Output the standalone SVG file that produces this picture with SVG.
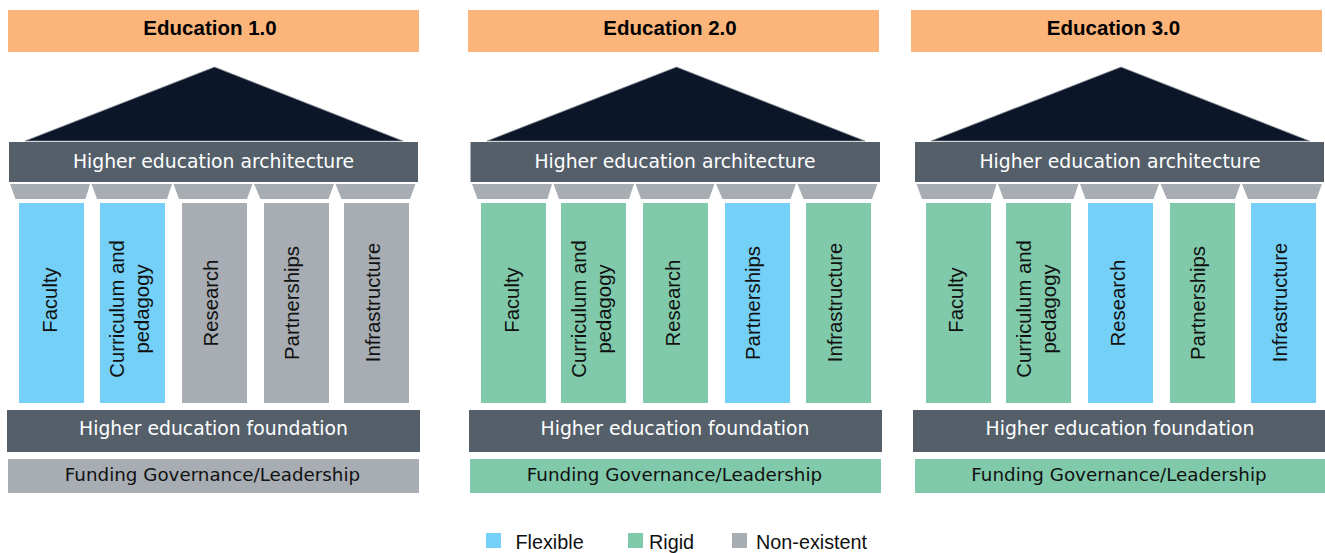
<svg xmlns="http://www.w3.org/2000/svg" width="1325" height="553" viewBox="0 0 1325 553">
<style>
.hdr{fill:#FBB57A}
.hdrt{font-family:"Liberation Sans",Arial,sans-serif;font-weight:bold;font-size:20.5px;fill:#000;text-anchor:middle}
.roof{fill:#0B1628;stroke:#8A9099;stroke-width:0.8}
.bar{fill:#545F6A}
.bart{font-family:"DejaVu Sans",sans-serif;font-size:18.8px;fill:#fff;text-anchor:middle}
.cap{fill:#A7ADB3}
.flex{fill:#74D0F6}
.rigid{fill:#80CAAB}
.none{fill:#A7ADB3}
.colt{font-family:"Liberation Sans",Arial,sans-serif;font-size:20.3px;fill:#111;text-anchor:middle}
.fundt{font-family:"DejaVu Sans",sans-serif;font-size:18.3px;fill:#111;text-anchor:middle}
.legt{font-family:"Liberation Sans",Arial,sans-serif;font-size:19.8px;fill:#111}
</style>
<defs>
<g id="capitals">
<polygon class="cap" points="10,184 90,184 85.5,199 15.5,199"/>
<polygon class="cap" points="91.5,184 172,184 167,199 97,199"/>
<polygon class="cap" points="173.5,184 252.5,184 247,199 179,199"/>
<polygon class="cap" points="254,184 334,184 328.5,199 260.5,199"/>
<polygon class="cap" points="335.5,184 415.5,184 410,199 341.5,199"/>
</g>
</defs>

<g id="connectors"/>

<!-- Panel 1 -->
<g id="edu1">
<g id="edu1-header"><rect class="hdr" x="8" y="10" width="411" height="42"/><text class="hdrt" x="210" y="35">Education 1.0</text></g>
<g id="edu1-roof"><polygon class="roof" points="214.5,67 403,141 25,141"/></g>
<g id="edu1-architecture"><rect class="bar" x="9" y="142" width="409" height="40"/><text class="bart" x="213.5" y="168">Higher education architecture</text></g>
<g id="edu1-capitals"><use href="#capitals"/></g>
<g id="edu1-faculty"><rect class="flex" x="19" y="203" width="65" height="200"/><text class="colt" transform="translate(56.5,300) rotate(-90)">Faculty</text></g>
<g id="edu1-curriculum"><rect class="flex" x="100" y="203" width="65" height="200"/><text class="colt" transform="translate(124,309) rotate(-90)">Curriculum and</text><text class="colt" transform="translate(149,309) rotate(-90)">pedagogy</text></g>
<g id="edu1-research"><rect class="none" x="182" y="203" width="65" height="200"/><text class="colt" transform="translate(218,303) rotate(-90)">Research</text></g>
<g id="edu1-partnerships"><rect class="none" x="264" y="203" width="65" height="200"/><text class="colt" transform="translate(298.5,303) rotate(-90)">Partnerships</text></g>
<g id="edu1-infrastructure"><rect class="none" x="344" y="203" width="65" height="200"/><text class="colt" transform="translate(380,302.5) rotate(-90)">Infrastructure</text></g>
<g id="edu1-foundation"><rect class="bar" x="7" y="410" width="413" height="42"/><text class="bart" x="213.5" y="435">Higher education foundation</text></g>
<g id="edu1-funding"><rect class="none" x="8" y="459" width="411" height="34"/><text class="fundt" x="212.5" y="481">Funding Governance/Leadership</text></g>
</g>

<!-- Panel 2 -->
<g id="edu2">
<g id="edu2-header"><rect class="hdr" x="468" y="10" width="411" height="42"/><text class="hdrt" x="670" y="35">Education 2.0</text></g>
<g id="edu2-roof"><polygon class="roof" points="676.5,67 865,141 487,141"/></g>
<g id="edu2-architecture"><rect class="bar" x="470.5" y="142" width="409.5" height="40"/><text class="bart" x="675" y="168">Higher education architecture</text></g>
<g id="edu2-capitals"><use href="#capitals" x="462"/></g>
<g id="edu2-faculty"><rect class="rigid" x="481" y="203" width="65" height="200"/><text class="colt" transform="translate(518.5,300) rotate(-90)">Faculty</text></g>
<g id="edu2-curriculum"><rect class="rigid" x="561" y="203" width="65" height="200"/><text class="colt" transform="translate(585.5,309) rotate(-90)">Curriculum and</text><text class="colt" transform="translate(610.5,309) rotate(-90)">pedagogy</text></g>
<g id="edu2-research"><rect class="rigid" x="643" y="203" width="65" height="200"/><text class="colt" transform="translate(679.5,303) rotate(-90)">Research</text></g>
<g id="edu2-partnerships"><rect class="flex" x="725" y="203" width="65" height="200"/><text class="colt" transform="translate(760,303) rotate(-90)">Partnerships</text></g>
<g id="edu2-infrastructure"><rect class="rigid" x="806" y="203" width="65" height="200"/><text class="colt" transform="translate(842,302.5) rotate(-90)">Infrastructure</text></g>
<g id="edu2-foundation"><rect class="bar" x="469" y="410" width="413" height="42"/><text class="bart" x="675" y="435">Higher education foundation</text></g>
<g id="edu2-funding"><rect class="rigid" x="470" y="459" width="411" height="34"/><text class="fundt" x="674.5" y="481">Funding Governance/Leadership</text></g>
</g>

<!-- Panel 3 -->
<g id="edu3">
<g id="edu3-header"><rect class="hdr" x="911" y="10" width="411" height="42"/><text class="hdrt" x="1113.5" y="35">Education 3.0</text></g>
<g id="edu3-roof"><polygon class="roof" points="1121,67 1309.5,141 931,141"/></g>
<g id="edu3-architecture"><rect class="bar" x="915" y="142" width="409" height="40"/><text class="bart" x="1120" y="168">Higher education architecture</text></g>
<g id="edu3-capitals"><use href="#capitals" x="906.5"/></g>
<g id="edu3-faculty"><rect class="rigid" x="926" y="203" width="65" height="200"/><text class="colt" transform="translate(963,300) rotate(-90)">Faculty</text></g>
<g id="edu3-curriculum"><rect class="rigid" x="1006" y="203" width="65" height="200"/><text class="colt" transform="translate(1030.5,309) rotate(-90)">Curriculum and</text><text class="colt" transform="translate(1055.5,309) rotate(-90)">pedagogy</text></g>
<g id="edu3-research"><rect class="flex" x="1088" y="203" width="65" height="200"/><text class="colt" transform="translate(1124.5,303) rotate(-90)">Research</text></g>
<g id="edu3-partnerships"><rect class="rigid" x="1170" y="203" width="65" height="200"/><text class="colt" transform="translate(1205,303) rotate(-90)">Partnerships</text></g>
<g id="edu3-infrastructure"><rect class="flex" x="1251" y="203" width="65" height="200"/><text class="colt" transform="translate(1287,302.5) rotate(-90)">Infrastructure</text></g>
<g id="edu3-foundation"><rect class="bar" x="913" y="410" width="412" height="42"/><text class="bart" x="1120" y="435">Higher education foundation</text></g>
<g id="edu3-funding"><rect class="rigid" x="915" y="459" width="410" height="34"/><text class="fundt" x="1119" y="481">Funding Governance/Leadership</text></g>
</g>

<!-- Legend -->
<g id="legend">
<g id="legend-flexible"><rect class="flex" x="486" y="533" width="15" height="15"/><text class="legt" x="515.5" y="548.5">Flexible</text></g>
<g id="legend-rigid"><rect class="rigid" x="628" y="533" width="15" height="15"/><text class="legt" x="649" y="548.5">Rigid</text></g>
<g id="legend-nonexistent"><rect class="none" x="732" y="533" width="15" height="15"/><text class="legt" x="756" y="548.5">Non-existent</text></g>
</g>
</svg>
